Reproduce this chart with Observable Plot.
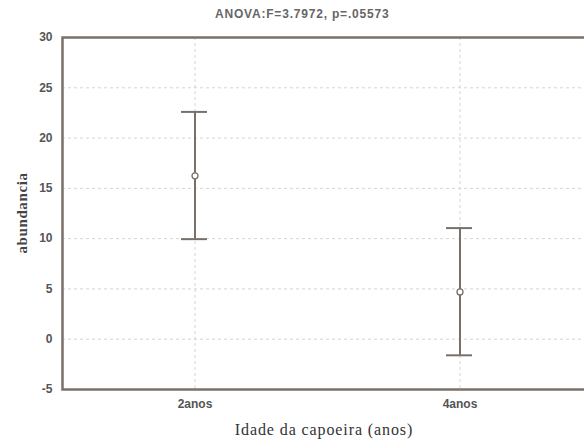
<!DOCTYPE html>
<html>
<head>
<meta charset="utf-8">
<script src="https://cdn.jsdelivr.net/npm/d3@7"></script>
<script src="https://cdn.jsdelivr.net/npm/@observablehq/plot@0.6"></script>
<style>
  html, body { margin: 0; padding: 0; background: #fff; overflow: hidden; }
  #wrap { position: relative; width: 584px; height: 448px; overflow: hidden; background: #fff; }
  #title { position: absolute; top: 7px; left: 215px; font-family: "Liberation Sans", Arial, sans-serif; font-size: 12px; font-weight: bold; color: #666; white-space: nowrap; letter-spacing: 0.8px; }
  #ylab { position: absolute; left: 22px; top: 213px; transform: translate(-50%, -50%) rotate(-90deg); font-family: "Liberation Serif", "Times New Roman", serif; font-weight: bold; font-size: 15px; color: #444; white-space: nowrap; letter-spacing: 0.6px; }
  #xlab { position: absolute; top: 421px; left: 324px; transform: translateX(-50%); font-family: "Liberation Serif", "Times New Roman", serif; font-size: 16px; color: #333; white-space: nowrap; letter-spacing: 0.9px; }
  #chart { position: absolute; left: 0; top: 0; width: 640px; height: 448px; }
  #chart svg { max-width: none !important; }
</style>
</head>
<body>
<div id="wrap">
  <div id="chart"></div>
  <div id="title">ANOVA:F=3.7972, p=.05573</div>
  <div id="ylab">abundancia</div>
  <div id="xlab">Idade da capoeira (anos)</div>
</div>
<script>
const categories = ["2anos", "4anos"];
const means = [16.25, 4.7];
const lowers = [9.95, -1.6];
const uppers = [22.6, 11.05];
const yTicks = [-5, 0, 5, 10, 15, 20, 25, 30];

const data = categories.map((c, i) => ({cat: c, mean: means[i], lo: lowers[i], hi: uppers[i]}));
const ink = "#7a706a";

const chart = Plot.plot({
  width: 640,
  height: 448,
  marginTop: 37,
  marginBottom: 59,
  marginLeft: 62,
  marginRight: 0,
  style: {background: "transparent", fontFamily: "'Liberation Sans', Arial, sans-serif", maxWidth: "none"},
  x: {type: "band", domain: categories, padding: 0, range: [62, 592], axis: null},
  y: {domain: [-5, 30], axis: null},
  marks: [
    Plot.gridY(yTicks, {stroke: "#d4d4d4", strokeOpacity: 1, strokeDasharray: "3,3"}),
    Plot.gridX(categories, {stroke: "#d4d4d4", strokeOpacity: 1, strokeDasharray: "3,3"}),
    Plot.axisY(yTicks, {tickSize: 0, tickPadding: 10, fontSize: 12, fontWeight: "bold", fill: "#555", label: null, tickFormat: d => String(d), style: {letterSpacing: "0.8px"}}),
    Plot.axisX(categories, {tickSize: 0, tickPadding: 10, fontSize: 12, fontWeight: "bold", fill: "#555", label: null, style: {letterSpacing: "0.8px"}}),
    Plot.ruleX(data, {x: "cat", y1: "lo", y2: "hi", stroke: ink, strokeWidth: 2}),
    Plot.tickY(data, {x: "cat", y: "hi", stroke: ink, strokeWidth: 2, insetLeft: 119, insetRight: 120}),
    Plot.tickY(data, {x: "cat", y: "lo", stroke: ink, strokeWidth: 2, insetLeft: 119, insetRight: 120}),
    Plot.dot(data, {x: "cat", y: "mean", r: 3, stroke: ink, fill: "white", strokeWidth: 1.3}),
    Plot.frame({stroke: ink, strokeWidth: 2.5})
  ]
});
document.getElementById("chart").appendChild(chart);
</script>
</body>
</html>
